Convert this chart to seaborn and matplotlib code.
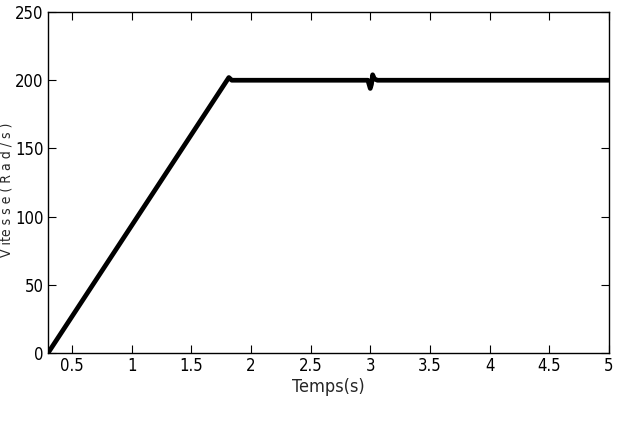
import pandas as pd
import matplotlib
matplotlib.use("Agg")
import matplotlib.pyplot as plt
import seaborn as sns

# speed response
temps = [0.3, 1.80, 1.815, 1.84, 2.98, 3.0, 3.01, 3.02, 3.035, 3.06, 5.0]
vitesse = [0.0, 200.0, 202.0, 200.0, 200.0, 194.0, 197.0, 204.0, 201.0, 200.0, 200.0]
xticks = [0.5, 1, 1.5, 2, 2.5, 3, 3.5, 4, 4.5, 5]
xticklabels = ["0.5", "1", "1.5", "2", "2.5", "3", "3.5", "4", "4.5", "5"]
yticks = [0, 50, 100, 150, 200, 250]

sns.set_style("ticks")
plt.rcParams["font.family"] = ["DejaVu Sans"]
plt.rcParams["font.stretch"] = "condensed"

df = pd.DataFrame({"t": temps, "v": vitesse})

fig = plt.figure(figsize=(6.27, 4.23), dpi=100)
ax = fig.add_axes([0.0766, 0.1655, 0.8946, 0.806])
sns.lineplot(data=df, x="t", y="v", sort=False, estimator=None,
             color="black", linewidth=3.4, ax=ax)

ax.set_xlim(0.3, 5)
ax.set_ylim(0, 250)
ax.set_xticks(xticks)
ax.set_xticklabels(xticklabels)
ax.set_yticks(yticks)
ax.tick_params(direction="in", top=True, right=True, length=6, width=0.8,
               labelsize=12, pad=3, colors="black")
for s in ax.spines.values():
    s.set_linewidth(1.0)
    s.set_color("black")

ax.set_xlabel("Temps(s)", fontsize=13, labelpad=2)
ax.set_ylabel("V ite s s e ( R a d / s )", fontsize=10)
ax.yaxis.set_label_coords(-0.061, 0.48)

fig.savefig("out.png", dpi=100)
